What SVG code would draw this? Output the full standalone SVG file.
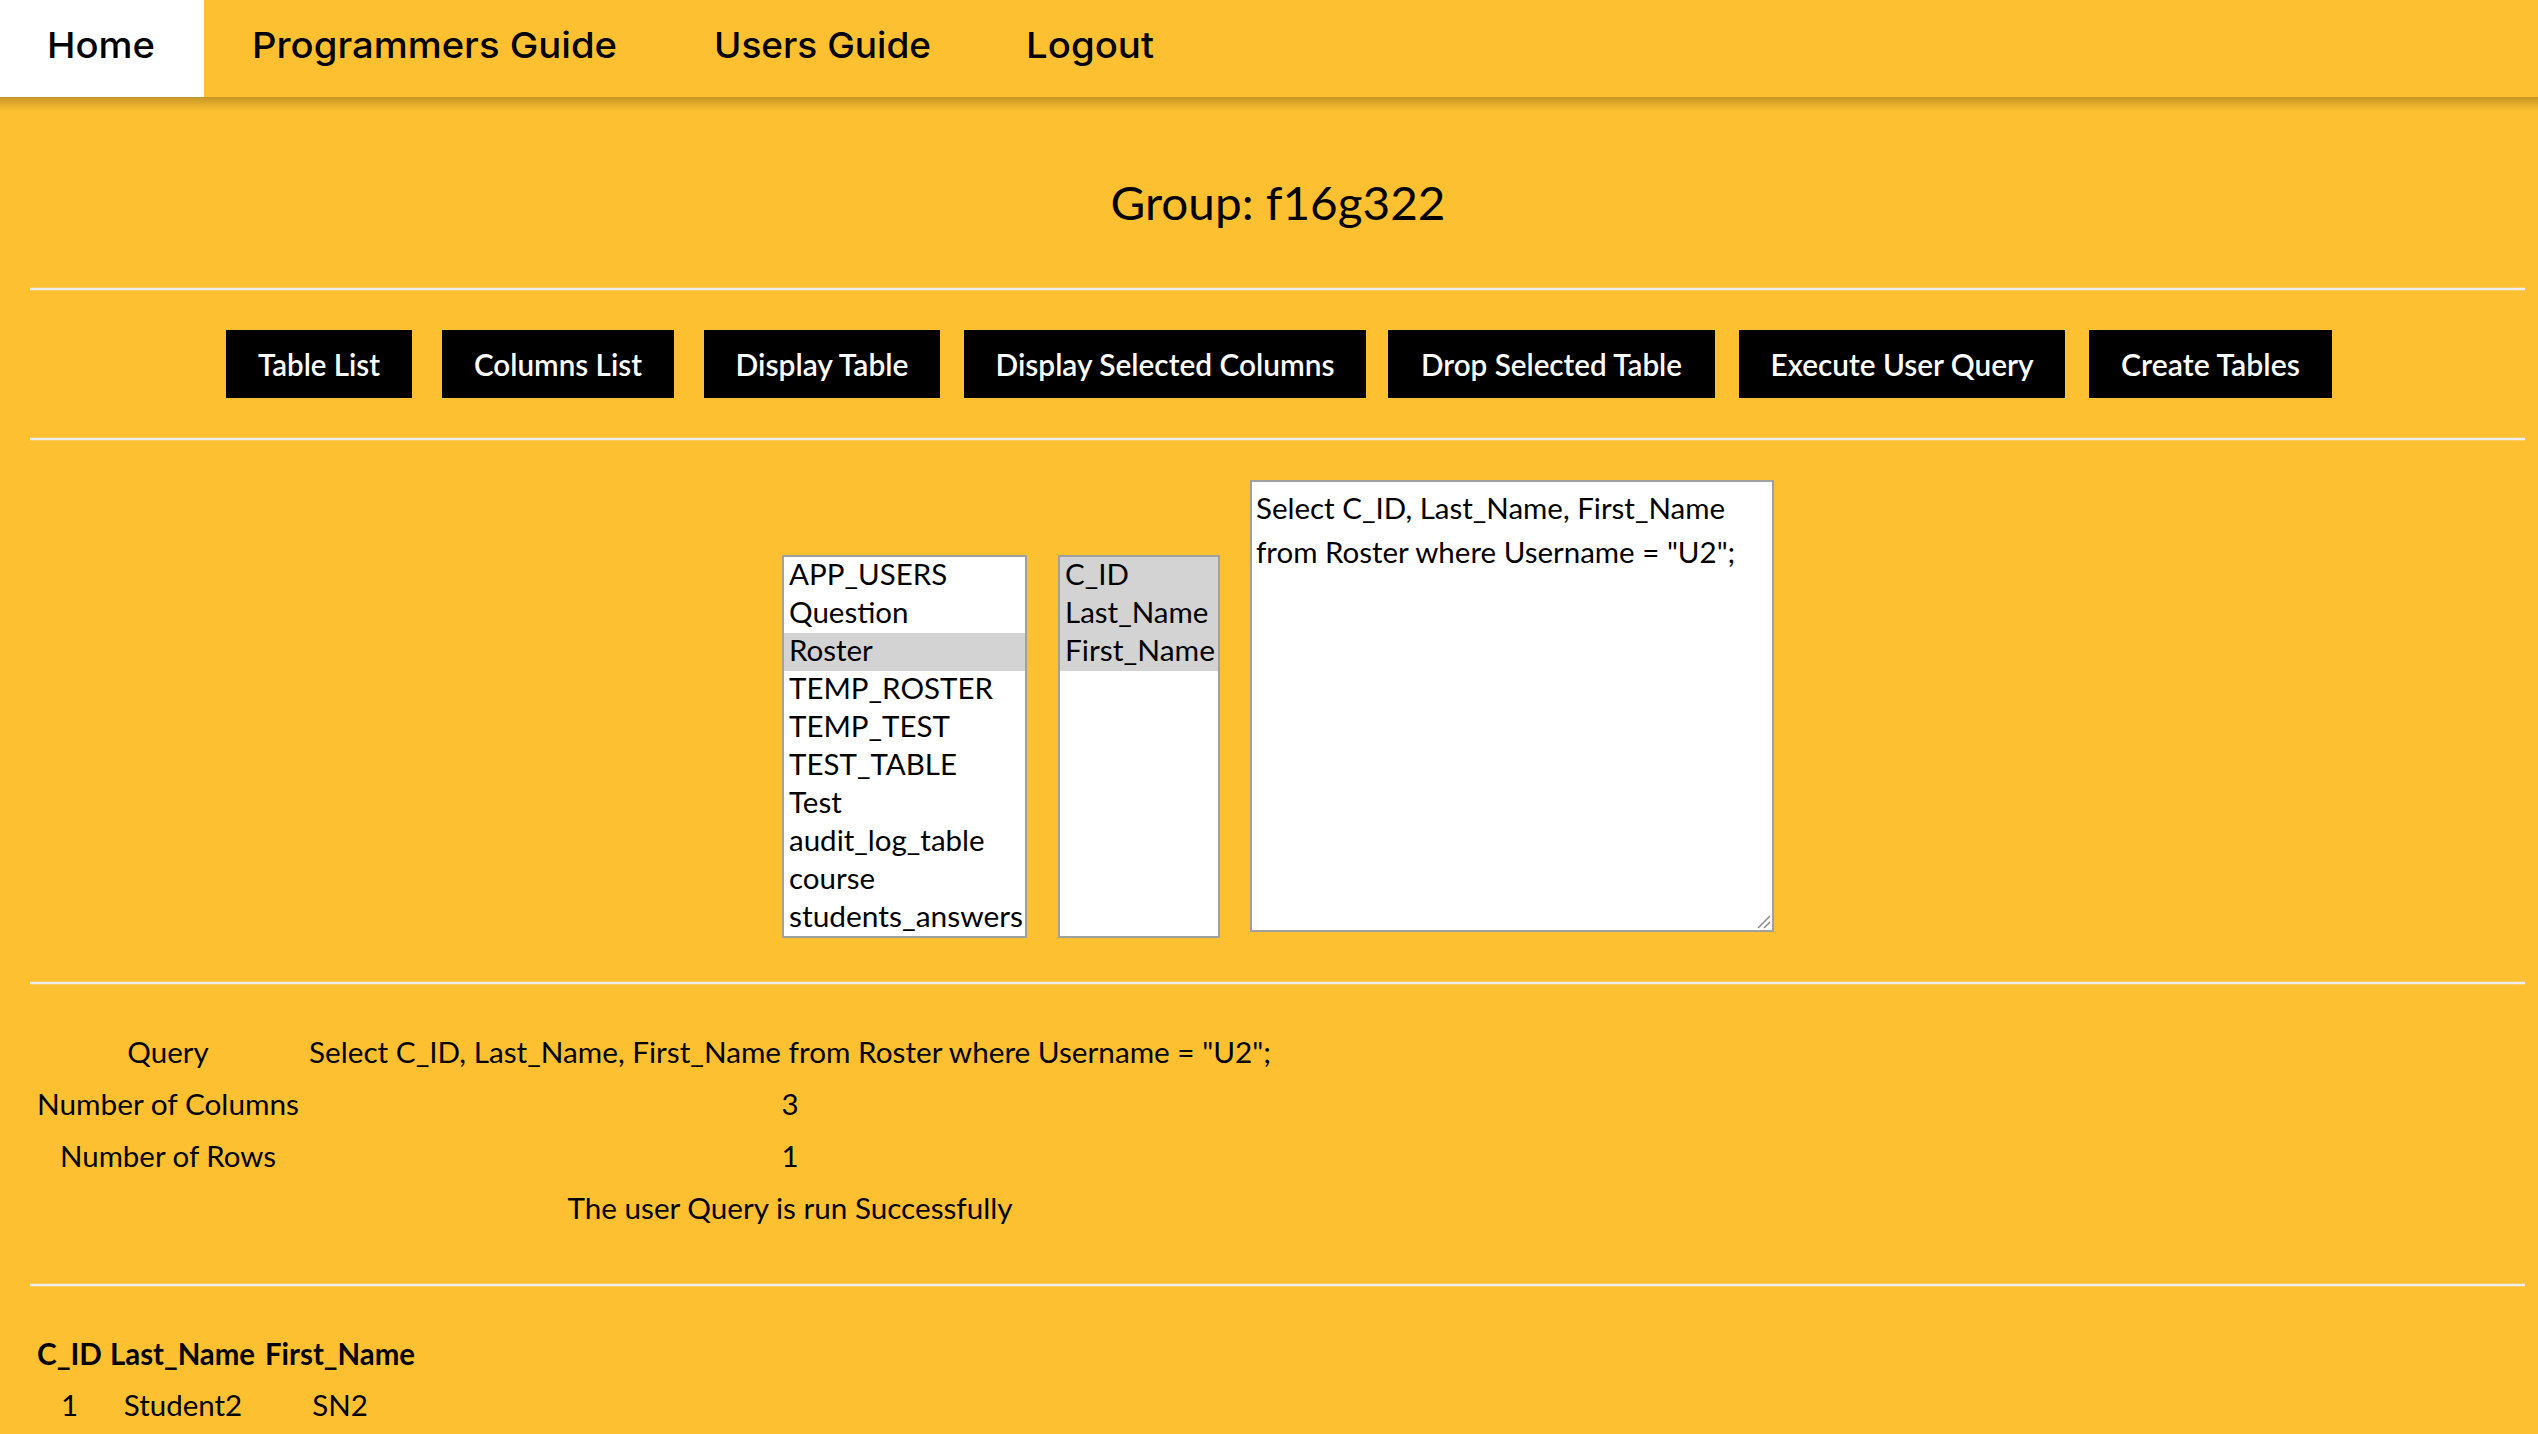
<svg xmlns="http://www.w3.org/2000/svg" width="2538" height="1434" viewBox="0 0 2538 1434">
<defs>
<linearGradient id="shadow" x1="0" y1="0" x2="0" y2="1">
<stop offset="0" stop-color="#000" stop-opacity="0.22"/>
<stop offset="1" stop-color="#000" stop-opacity="0"/>
</linearGradient>
<style>
.nav{font-family:Inter,"Noto Sans","DejaVu Sans",sans-serif;font-size:36px;font-weight:500;fill:#000}
.lato{font-family:Lato,"Liberation Sans",sans-serif;fill:#000}
.btn rect{fill:#000}
.btn text{font-family:Lato,"Liberation Sans",sans-serif;font-size:30px;font-weight:600;fill:#fff;text-anchor:middle}
.item{font-family:Lato,"Liberation Sans",sans-serif;font-size:29.5px;fill:#000}
.t{font-family:Lato,"Liberation Sans",sans-serif;font-size:29.5px;fill:#000}
.c{text-anchor:middle}
.hr{stroke:#eeeeee;stroke-width:2.5}
.box{fill:#fff;stroke:#a0a0a0;stroke-width:2}
.sel{fill:#d3d3d3}
</style>
</defs>
<rect x="0" y="0" width="2538" height="1434" fill="#FDC030"/>

<g id="navbar">
<rect x="0" y="97" width="2538" height="14" fill="url(#shadow)"/>
<rect x="0" y="0" width="204" height="97" fill="#ffffff"/>
<text class="nav" x="47" y="58" textLength="108" lengthAdjust="spacingAndGlyphs">Home</text>
<text class="nav" x="252" y="58" textLength="365" lengthAdjust="spacingAndGlyphs">Programmers Guide</text>
<text class="nav" x="714" y="58" textLength="217" lengthAdjust="spacingAndGlyphs">Users Guide</text>
<text class="nav" x="1026" y="58" textLength="128" lengthAdjust="spacingAndGlyphs">Logout</text>
</g>

<g id="title">
<text class="lato" x="1278" y="220" font-size="46" text-anchor="middle" textLength="335" lengthAdjust="spacingAndGlyphs">Group: f16g322</text>
</g>

<g id="rules">
<line class="hr" x1="30" y1="289" x2="2525" y2="289"/>
<line class="hr" x1="30" y1="439" x2="2525" y2="439"/>
<line class="hr" x1="30" y1="983" x2="2525" y2="983"/>
<line class="hr" x1="30" y1="1285" x2="2525" y2="1285"/>
</g>

<g id="btn-table-list" class="btn"><rect x="226" y="330" width="186" height="68"/><text x="319" y="376" textLength="122" lengthAdjust="spacingAndGlyphs">Table List</text></g>
<g id="btn-columns-list" class="btn"><rect x="442" y="330" width="232" height="68"/><text x="558" y="376" textLength="168" lengthAdjust="spacingAndGlyphs">Columns List</text></g>
<g id="btn-display-table" class="btn"><rect x="704" y="330" width="236" height="68"/><text x="822" y="376" textLength="173" lengthAdjust="spacingAndGlyphs">Display Table</text></g>
<g id="btn-display-selected" class="btn"><rect x="964" y="330" width="402" height="68"/><text x="1165" y="376" textLength="339" lengthAdjust="spacingAndGlyphs">Display Selected Columns</text></g>
<g id="btn-drop-table" class="btn"><rect x="1388" y="330" width="327" height="68"/><text x="1551.5" y="376" textLength="261" lengthAdjust="spacingAndGlyphs">Drop Selected Table</text></g>
<g id="btn-execute" class="btn"><rect x="1739" y="330" width="326" height="68"/><text x="1902" y="376" textLength="263" lengthAdjust="spacingAndGlyphs">Execute User Query</text></g>
<g id="btn-create" class="btn"><rect x="2089" y="330" width="243" height="68"/><text x="2210.5" y="376" textLength="179" lengthAdjust="spacingAndGlyphs">Create Tables</text></g>

<g id="table-list">
<rect class="box" x="783" y="556" width="243" height="381"/>
<rect class="sel" x="784" y="633" width="241" height="38"/>
<text class="item" x="789" y="585">APP_USERS</text>
<text class="item" x="789" y="623">Question</text>
<text class="item" x="789" y="661">Roster</text>
<text class="item" x="789" y="699">TEMP_ROSTER</text>
<text class="item" x="789" y="737">TEMP_TEST</text>
<text class="item" x="789" y="775">TEST_TABLE</text>
<text class="item" x="789" y="813">Test</text>
<text class="item" x="789" y="851">audit_log_table</text>
<text class="item" x="789" y="889">course</text>
<text class="item" x="789" y="927" textLength="234" lengthAdjust="spacingAndGlyphs">students_answers</text>
</g>

<g id="columns-list">
<rect class="box" x="1059" y="556" width="160" height="381"/>
<rect class="sel" x="1060" y="557" width="158" height="114"/>
<text class="item" x="1065" y="585">C_ID</text>
<text class="item" x="1065" y="623">Last_Name</text>
<text class="item" x="1065" y="661" textLength="150" lengthAdjust="spacingAndGlyphs">First_Name</text>
</g>

<g id="query-textarea">
<rect class="box" x="1251" y="481" width="522" height="450"/>
<text class="item" x="1256" y="519">Select C_ID, Last_Name, First_Name</text>
<text class="item" x="1256" y="563">from Roster where Username = "U2";</text>
<line x1="1758" y1="928" x2="1770" y2="916" stroke="#888" stroke-width="1.5"/>
<line x1="1764" y1="928" x2="1770" y2="922" stroke="#888" stroke-width="1.5"/>
</g>

<g id="query-info">
<text class="t c" x="168" y="1063">Query</text>
<text class="t c" x="790" y="1063" textLength="962" lengthAdjust="spacingAndGlyphs">Select C_ID, Last_Name, First_Name from Roster where Username = "U2";</text>
<text class="t c" x="168" y="1115" textLength="262" lengthAdjust="spacingAndGlyphs">Number of Columns</text>
<text class="t c" x="790" y="1115">3</text>
<text class="t c" x="168" y="1167" textLength="216" lengthAdjust="spacingAndGlyphs">Number of Rows</text>
<text class="t c" x="790" y="1167">1</text>
<text class="t c" x="790" y="1219" textLength="445" lengthAdjust="spacingAndGlyphs">The user Query is run Successfully</text>
</g>

<g id="result-table">
<text class="t c" x="69.5" y="1365" font-weight="bold" textLength="65" lengthAdjust="spacingAndGlyphs">C_ID</text>
<text class="t c" x="182.5" y="1365" font-weight="bold" textLength="145" lengthAdjust="spacingAndGlyphs">Last_Name</text>
<text class="t c" x="340" y="1365" font-weight="bold" textLength="150" lengthAdjust="spacingAndGlyphs">First_Name</text>
<text class="t c" x="69.5" y="1416">1</text>
<text class="t c" x="183" y="1416">Student2</text>
<text class="t c" x="340" y="1416">SN2</text>
</g>
</svg>
